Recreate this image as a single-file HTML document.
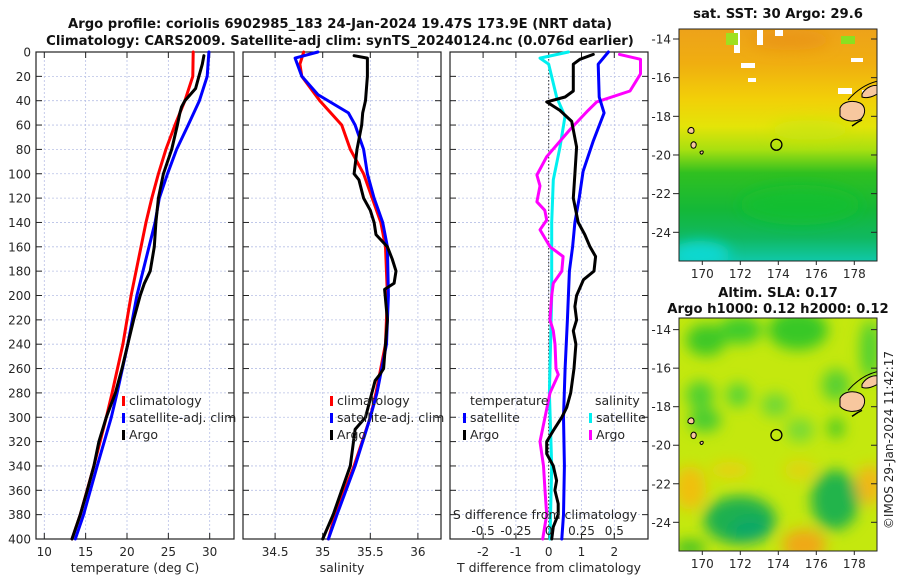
<!DOCTYPE html>
<html><head><meta charset="utf-8"><style>
html,body{margin:0;padding:0;background:#fff}
svg{display:block;font-family:"DejaVu Sans","Liberation Sans",sans-serif}
</style></head><body>
<svg id="chart" width="900" height="580" viewBox="0 0 900 580" xmlns="http://www.w3.org/2000/svg">
<defs>
<linearGradient id="sstGrad" x1="0" y1="0" x2="0" y2="1">
<stop offset="0" stop-color="#eda21a"/><stop offset="0.15" stop-color="#f0ae10"/>
<stop offset="0.3" stop-color="#f2cf08"/><stop offset="0.42" stop-color="#e4e408"/>
<stop offset="0.52" stop-color="#a8e010"/><stop offset="0.62" stop-color="#30c020"/>
<stop offset="0.78" stop-color="#14b838"/><stop offset="0.9" stop-color="#10b860"/>
<stop offset="1" stop-color="#10c8a8"/></linearGradient>
<filter id="blur6" x="-50%" y="-50%" width="200%" height="200%"><feGaussianBlur stdDeviation="7"/></filter>
<clipPath id="clipTop"><rect x="679" y="29" width="198" height="232"/></clipPath>
<clipPath id="clipBot"><rect x="679" y="318" width="198" height="233"/></clipPath>
</defs>
<g id="titles" font-weight="bold" font-size="13.2" fill="#111" text-anchor="middle">
<text x="340" y="28">Argo profile: coriolis 6902985_183 24-Jan-2024 19.47S 173.9E (NRT data)</text>
<text x="340" y="45">Climatology: CARS2009. Satellite-adj clim: synTS_20240124.nc (0.076d earlier)</text>
<text x="778" y="18">sat. SST: 30 Argo: 29.6</text>
<text x="778" y="297">Altim. SLA: 0.17</text>
<text x="778" y="313">Argo h1000: 0.12 h2000: 0.12</text>
</g>
<g id="maps"></g>
<g id="panels"></g>
<text x="0" y="0" transform="translate(893,440) rotate(-90)" text-anchor="middle" font-size="12" fill="#262626">©IMOS 29-Jan-2024 11:42:17</text>
</svg>
<script>
// ---------- data ----------
const depthTicks=[0,20,40,60,80,100,120,140,160,180,200,220,240,260,280,300,320,340,360,380,400];
const tempTicks=[10,15,20,25,30];
const salTicks=[34.5,35,35.5,36];
const tdiffTicks=[-2,-1,0,1,2];
const sdiffTicks=[-0.5,-0.25,0,0.25,0.5];
const sdiffLabels=["-0.5","-0.25","0","0.25","0.5"];
const latTicks=[-14,-16,-18,-20,-22,-24];
const lonTicks=[170,172,174,176,178];

const tClimDepth=[0,20,40,60,80,100,120,140,200,240,280,300,340,380,400];
const tClim=[28.0,27.96,27.0,25.8,24.7,23.8,23.0,22.3,20.5,19.5,18.2,17.5,16.0,14.35,13.35];
const tSatDepth=[0,20,40,60,80,100,120,140,200,240,280,300,340,380,400];
const tSat=[29.9,29.7,28.75,27.4,26.0,24.9,23.9,23.4,21.2,20.1,18.8,18.1,16.4,14.75,13.75];
const tArgoDepth=[3,10,20,30,40,45,50,60,80,100,120,140,160,180,190,200,220,240,260,280,300,320,340,360,380,400];
const tArgo=[29.3,29.1,28.7,28.3,27.0,26.6,26.4,26.1,25.4,24.4,23.8,23.5,23.3,22.8,22.1,21.6,20.8,20.1,19.4,18.6,17.5,16.6,16.0,15.2,14.35,13.35];

const sClimDepth=[0,10,20,40,60,80,100,120,140,160,200,240,280,300,340,380,400];
const sClim=[34.80,34.76,34.78,34.97,35.2,35.29,35.43,35.52,35.61,35.66,35.68,35.66,35.56,35.5,35.33,35.13,35.06];
const sSatDepth=[0,5,20,35,50,60,80,100,120,140,160,200,240,280,300,340,380,400];
const sSat=[34.95,34.71,34.78,34.95,35.27,35.34,35.43,35.47,35.54,35.63,35.68,35.69,35.67,35.57,35.5,35.34,35.15,35.06];
const sArgoDepth=[3,5,20,40,50,60,80,100,105,120,130,140,150,160,170,180,190,195,220,240,260,265,270,300,310,340,360,380,400];
const sArgo=[35.33,35.47,35.47,35.45,35.42,35.41,35.36,35.33,35.38,35.43,35.50,35.54,35.56,35.68,35.73,35.77,35.75,35.65,35.68,35.66,35.64,35.6,35.55,35.45,35.34,35.29,35.2,35.11,35.0];

const dtSatDepth=[0,10,37,50,73,98,120,140,160,180,220,260,300,340,380,400];
const dtSat=[1.82,1.51,1.54,1.69,1.36,1.05,0.93,0.8,0.73,0.63,0.57,0.5,0.45,0.48,0.45,0.4];
const dtArgoDepth=[2,6,10,32,37,41,48,57,78,100,120,140,150,160,168,180,187,200,209,220,229,240,260,280,292,300,311,320,330,340,352,360,371,380,390,400];
const dtArgo=[1.36,0.95,0.75,0.75,0.5,-0.06,0.34,0.7,0.85,0.8,0.75,0.9,1.1,1.26,1.43,1.38,1.06,0.85,0.8,0.85,0.75,0.83,0.77,0.67,0.55,0.4,0.14,-0.06,-0.06,0.14,0.24,0.19,0.29,0.29,0.14,0.09];
const dsSatDepth=[0,5,10,37,53,78,105,140,200,280,340,400];
const dsSat=[0.15,-0.066,0,0.06,0.124,0.086,0.035,0.023,0.023,0.005,0.023,0.01];
const dsArgoDepth=[2,6,18,32,41,48,64,86,101,110,123,130,138,146,160,168,180,190,200,220,229,240,260,265,280,300,320,340,360,380,400];
const dsArgo=[0.54,0.70,0.70,0.62,0.366,0.30,0.16,-0.015,-0.09,-0.066,-0.09,-0.03,-0.015,-0.066,0.01,0.11,0.1,0.035,0.023,0.01,0.035,0.048,0.056,0.073,0.01,-0.028,-0.066,-0.04,-0.028,-0.015,-0.046];

const argoLon=173.9, argoLat=-19.47;

// ---------- helpers ----------
const NS="http://www.w3.org/2000/svg";
const svg=document.getElementById('chart');
const panelsG=document.getElementById('panels');
const mapsG=document.getElementById('maps');
function mk(tag,attrs,parent){const e=document.createElementNS(NS,tag);for(const k in attrs)e.setAttribute(k,attrs[k]);(parent||svg).appendChild(e);return e;}
const Y0=52,Y1=539;
function yD(d){return Y0+(d/400)*(Y1-Y0);}
function lin(d0,d1,r0,r1){return v=>r0+(v-d0)/(d1-d0)*(r1-r0);}
const xT=lin(10,30,44.3,209.7);
const xS=lin(35,35.5,322.7,370.3);
const xDT=lin(0,1,548.7,581.5);
const xDS=lin(0,0.25,548.7,581.5);
const TXT="#262626";
const FS=12;

function frame(g,x0,x1,xticks,xf,showY){
  const gl=mk('g',{},g);
  
  
  depthTicks.forEach(d=>{mk('line',{x1:x0,x2:x1,y1:yD(d),y2:yD(d),stroke:'#b8c0e6','stroke-width':0.8,'stroke-dasharray':'2,2'},gl);
    mk('line',{x1:x0,x2:x0+6,y1:yD(d),y2:yD(d),stroke:'#222','stroke-width':1},gl);
    mk('line',{x1:x1-6,x2:x1,y1:yD(d),y2:yD(d),stroke:'#222','stroke-width':1},gl);});
  xticks.forEach(v=>{const x=xf(v);mk('line',{x1:x,x2:x,y1:Y0,y2:Y1,stroke:'#b8c0e6','stroke-width':0.8,'stroke-dasharray':'2,2'},gl);
    mk('line',{x1:x,x2:x,y1:Y1,y2:Y1-6,stroke:'#222','stroke-width':1},gl);
    mk('line',{x1:x,x2:x,y1:Y0,y2:Y0+6,stroke:'#222','stroke-width':1},gl);});
  const r=mk('rect',{x:x0,y:Y0,width:x1-x0,height:Y1-Y0,fill:'none',stroke:'#222','stroke-width':1.2},g);
  
  
  if(showY){depthTicks.forEach(d=>{const t=mk('text',{x:x0-5,y:yD(d)+4.5,'text-anchor':'end','font-size':FS,fill:TXT},g);t.textContent=d;
    
    });}
}
function line(g,xs,ds,xf,color,name){
  const pts=xs.map((v,i)=>xf(v).toFixed(1)+','+yD(ds[i]).toFixed(1)).join(' ');
  const p=mk('polyline',{points:pts,fill:'none',stroke:color,'stroke-width':3,'stroke-linejoin':'round','stroke-linecap':'round'},g);
  
  
}
function xlabels(g,vals,labels,xf,y){
  vals.forEach((v,i)=>{const t=mk('text',{x:xf(v),y:y,'text-anchor':'middle','font-size':FS,fill:TXT},g);t.textContent=labels?labels[i]:v;
    
    });
}
function legendItem(g,x,y,color,label,name){
  mk('rect',{x:x,y:y-9,width:3,height:10,fill:color},g);
  const t=mk('text',{x:x+7,y:y,'font-size':12.5,fill:TXT},g);t.textContent=label;
  
  
}
function simpleText(g,x,y,s,anchor,name,size){const t=mk('text',{x:x,y:y,'text-anchor':anchor||'middle','font-size':size||12.5,fill:TXT},g);t.textContent=s;
  
  return t;}

// ---------- panel 1: temperature ----------
const g1=mk('g',{},panelsG);


frame(g1,36,234,tempTicks,xT,true);
line(g1,tClim,tClimDepth,xT,'#ff0000','temp-climatology-line');
line(g1,tSat,tSatDepth,xT,'#0000ff','temp-satellite-line');
line(g1,tArgo,tArgoDepth,xT,'#000000','temp-argo-line');
xlabels(g1,tempTicks,null,xT,556);
simpleText(g1,135,572,'temperature (deg C)','middle','temperature-axis-title');
const lg1=mk('g',{},g1);


legendItem(lg1,122,405,'#ff0000','climatology','legend-climatology');
legendItem(lg1,122,422,'#0000ff','satellite-adj. clim','legend-satellite');
legendItem(lg1,122,439,'#000000','Argo','legend-argo');

// ---------- panel 2: salinity ----------
const g2=mk('g',{},panelsG);


frame(g2,243,441,salTicks,xS,false);
line(g2,sClim,sClimDepth,xS,'#ff0000','sal-climatology-line');
line(g2,sSat,sSatDepth,xS,'#0000ff','sal-satellite-line');
line(g2,sArgo,sArgoDepth,xS,'#000000','sal-argo-line');
xlabels(g2,salTicks,null,xS,556);
simpleText(g2,342,572,'salinity','middle','salinity-axis-title');
const lg2=mk('g',{},g2);


legendItem(lg2,330,405,'#ff0000','climatology','legend-climatology');
legendItem(lg2,330,422,'#0000ff','satellite-adj. clim','legend-satellite');
legendItem(lg2,330,439,'#000000','Argo','legend-argo');

// ---------- panel 3: differences ----------
const g3=mk('g',{},panelsG);


frame(g3,450,648,tdiffTicks,xDT,false);
const z=mk('line',{x1:xDT(0),x2:xDT(0),y1:Y0,y2:Y1,stroke:'#333','stroke-width':1,'stroke-dasharray':'1.5,2'},g3);


line(g3,dsSat,dsSatDepth,xDS,'#00f0f0','sdiff-satellite-line');
line(g3,dsArgo,dsArgoDepth,xDS,'#ff00ff','sdiff-argo-line');
line(g3,dtSat,dtSatDepth,xDT,'#0000ff','tdiff-satellite-line');
line(g3,dtArgo,dtArgoDepth,xDT,'#000000','tdiff-argo-line');
xlabels(g3,tdiffTicks,null,xDT,556);
simpleText(g3,549,572,'T difference from climatology','middle','tdiff-axis-title');
simpleText(g3,545,519,'S difference from climatology','middle','sdiff-axis-title');
xlabels(g3,sdiffTicks,sdiffLabels,xDS,535);
const lg3=mk('g',{},g3);


simpleText(lg3,470,405,'temperature','start','legend-temperature-header');
simpleText(lg3,595,405,'salinity','start','legend-salinity-header');
legendItem(lg3,463,422,'#0000ff','satellite','legend-t-satellite');
legendItem(lg3,463,439,'#000000','Argo','legend-t-argo');
legendItem(lg3,589,422,'#00f0f0','satellite','legend-s-satellite');
legendItem(lg3,589,439,'#ff00ff','Argo','legend-s-argo');

// ---------- maps ----------
function mapAxes(g,top,bottom,latY,lonX){
  mk('rect',{x:679,y:top,width:198,height:bottom-top,fill:'none',stroke:'#222','stroke-width':1},g);
  latTicks.forEach(l=>{const y=latY(l);mk('line',{x1:679,x2:673,y1:y,y2:y,stroke:'#222'},g);mk('line',{x1:877,x2:871,y1:y,y2:y,stroke:'#222'},g);
    const t=mk('text',{x:671,y:y+4.5,'text-anchor':'end','font-size':FS,fill:TXT},g);t.textContent=l;
    
    });
  lonTicks.forEach(l=>{const x=lonX(l);mk('line',{x1:x,x2:x,y1:bottom,y2:bottom+4,stroke:'#222'},g);
    const t=mk('text',{x:x,y:bottom+17,'text-anchor':'middle','font-size':FS,fill:TXT},g);t.textContent=l;
    
    });
}
const lonX=lin(170,178,702.3,854.3);
const latTop=lin(-14,-24,39,232.3);
const latBot=lin(-18,-24,406.7,522.3);
function islands(g,dy){
  const ig=mk('g',{transform:'translate(0,'+dy+')'},g);
  const isl=[
    'M840,108 C843,101 853,100 860,103 C866,106 866,114 861,119 C855,122 845,122 840,116 Z',
    'M862,94 C866,87 874,84 879,86 L879,93 C874,96 868,99 862,97 Z',
    'M688,130 C690,126 694,127 694,131 C694,134 690,134 688,132 Z',
    'M691,144 C693,140 697,142 696,146 C695,149 692,149 691,146 Z',
    'M700,152 C702,150 704,151 703,153 C702,155 700,154 700,152 Z'];
  isl.forEach(d=>{const p=mk('path',{d:d,fill:'#f7c79e',stroke:'#000','stroke-width':1},ig);
    
    });
  mk('path',{d:'M848,100 C855,92 865,84 878,81',fill:'none',stroke:'#000','stroke-width':1},ig);
  mk('path',{d:'M852,126 l6,-4 l4,-2',fill:'none',stroke:'#000','stroke-width':1.5},ig);
}
// top SST map
const mt=mk('g',{},mapsG);


const mtc=mk('g',{'clip-path':'url(#clipTop)'},mt);
mk('rect',{x:679,y:29,width:198,height:232,fill:'url(#sstGrad)'},mtc);
const bl=mk('g',{filter:'url(#blur6)'},mtc);
mk('ellipse',{cx:700,cy:255,rx:30,ry:14,fill:'#10d8d0'},bl);
mk('ellipse',{cx:800,cy:205,rx:60,ry:20,fill:'#14c030',opacity:0.7},bl);
mk('ellipse',{cx:810,cy:130,rx:40,ry:10,fill:'#c8e40c',opacity:0.7},bl);
mk('ellipse',{cx:790,cy:40,rx:40,ry:10,fill:'#e88c18',opacity:0.6},bl);
[[734,30,6,23],[757,30,6,15],[775,30,8,6],[741,63,14,5],[748,78,8,4],[851,58,12,4],[838,88,14,6],[862,90,12,4]].forEach(a=>{
  mk('rect',{x:a[0],y:a[1],width:a[2],height:a[3],fill:'#fff'},mtc);});
mk('rect',{x:841,y:36,width:14,height:8,fill:'#8ae020'},mtc);
mk('rect',{x:726,y:33,width:12,height:12,fill:'#9ee020'},mtc);
islands(mtc,0);
const c1=mk('circle',{cx:lonX(argoLon),cy:latTop(argoLat),r:5.5,fill:'none',stroke:'#000','stroke-width':1.3},mt);


mapAxes(mt,29,261,latTop,lonX);
// bottom SLA map
const mb=mk('g',{},mapsG);


const mbc=mk('g',{'clip-path':'url(#clipBot)'},mb);
mk('rect',{x:679,y:318,width:198,height:233,fill:'#c4e80e'},mbc);
const b2=mk('g',{filter:'url(#blur6)'},mbc);
[[706,340,20,16,'#3cc828'],[740,330,22,14,'#40cc2c'],[798,330,30,20,'#38c828'],[700,395,14,14,'#50d030'],[738,395,12,12,'#58d434'],[705,420,16,12,'#48cc30'],[775,405,14,12,'#70d834'],[800,430,14,12,'#78da34'],[836,385,14,16,'#58d030'],[836,428,8,10,'#40c828'],[870,350,10,30,'#50d030'],[740,520,36,24,'#1cb050'],[835,500,24,30,'#20b44c'],[750,530,20,12,'#10a868'],[690,488,16,22,'#f0c010'],[730,470,20,8,'#e8d010'],[804,545,22,16,'#f0a818'],[870,485,14,20,'#f0b818'],[690,548,16,8,'#40c028'],[800,470,16,10,'#e0d40c']].forEach(a=>{
  mk('ellipse',{cx:a[0],cy:a[1],rx:a[2],ry:a[3],fill:a[4]},b2);});
islands(mbc,latBot(-18)-latTop(-18));
const c2=mk('circle',{cx:lonX(argoLon),cy:latBot(argoLat),r:5.5,fill:'none',stroke:'#000','stroke-width':1.3},mb);


mapAxes(mb,318,551,latBot,lonX);
</script>
</body></html>
